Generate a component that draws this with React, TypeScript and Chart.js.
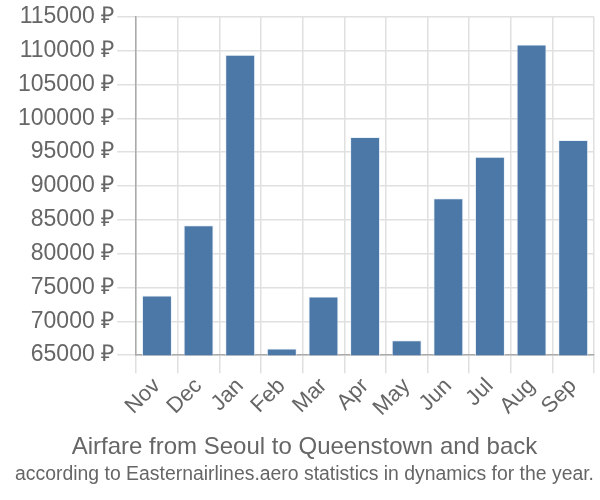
import React, { useEffect, useRef } from "react";
import { Chart, registerables } from "chart.js";

Chart.register(...registerables);

const categories = ["Nov", "Dec", "Jan", "Feb", "Mar", "Apr", "May", "Jun", "Jul", "Aug", "Sep"];
const prices = [73800, 84200, 109400, 66000, 73650, 97250, 67200, 88200, 94300, 110900, 96800];
const titleText = "Airfare from Seoul to Queenstown and back";
const subtitleText = "according to Easternairlines.aero statistics in dynamics for the year.";
const yMin = 65000;
const yMax = 115000;
const yStep = 5000;

export default function App() {
  const ref = useRef<HTMLCanvasElement | null>(null);

  useEffect(() => {
    document.body.style.margin = "0";
    const ctx = ref.current!;
    const chart = new Chart(ctx, {
      type: "bar",
      data: {
        labels: categories,
        datasets: [
          {
            data: prices,
            backgroundColor: "#4c78a8",
            borderColor: "rgba(230,238,248,0.8)",
            borderWidth: 1,
          },
        ],
      },
      options: {
        animation: false,
        responsive: true,
        maintainAspectRatio: false,
        layout: { padding: { left: 15, right: 6, top: 0, bottom: 14 } },
        plugins: {
          legend: { display: false },
          tooltip: { enabled: false },
          // bottom boxes: "title" is outermost, so the lower line goes there
          title: {
            display: true,
            position: "bottom",
            text: subtitleText,
            color: "#666",
            font: { family: "Liberation Sans", size: 20, weight: "normal" },
            padding: { top: 0, bottom: 0 },
          },
          subtitle: {
            display: true,
            position: "bottom",
            text: titleText,
            color: "#666",
            font: { family: "Liberation Sans", size: 24, weight: "normal" },
            padding: { top: 12, bottom: 0 },
          },
        },
        scales: {
          x: {
            grid: { color: "#e0e0e0", lineWidth: 1.5, offset: true, tickLength: 18 },
            border: { color: "#aaa", width: 1.5 },
            ticks: {
              color: "#666",
              font: { family: "Liberation Sans", size: 22 },
              maxRotation: 45,
              minRotation: 45,
              padding: 0,
            },
          },
          y: {
            min: yMin,
            max: yMax,
            grid: { color: "#e0e0e0", lineWidth: 1.5, tickLength: 19 },
            border: { color: "#aaa", width: 1.5 },
            ticks: {
              stepSize: yStep,
              color: "#666",
              font: { family: "Liberation Sans", size: 23 },
              padding: 3,
              callback: (v: any) => `${v} ₽`,
            },
          },
        },
      },
    });
    return () => chart.destroy();
  }, []);

  return (
    <div style={{ position: "fixed", left: 0, top: 0, width: 600, height: 500 }}>
      <canvas ref={ref} />
    </div>
  );
}
